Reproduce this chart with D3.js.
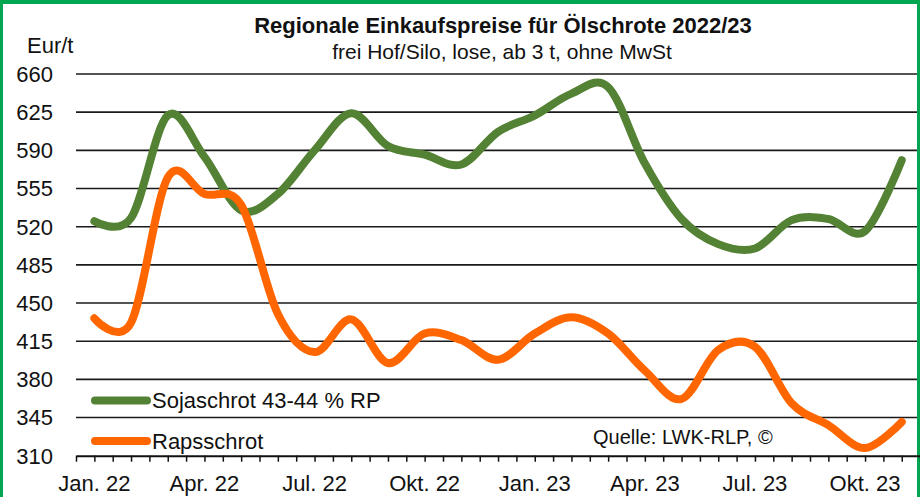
<!DOCTYPE html>
<html>
<head>
<meta charset="utf-8">
<script src="https://cdn.jsdelivr.net/npm/d3@7"></script>
<style>
  html, body { margin: 0; padding: 0; background: #fff; overflow: hidden; }
  svg { display: block; font-family: 'Liberation Sans Narrow', 'Arial Narrow', sans-serif; }
</style>
</head>
<body>
<svg id="chart" width="920" height="497"></svg>
<script>
// ---- data (monthly, Jan 22 .. Nov 23) ----
const months = ["Jan 22","Feb 22","Mär 22","Apr 22","Mai 22","Jun 22","Jul 22","Aug 22","Sep 22","Okt 22","Nov 22","Dez 22",
                "Jan 23","Feb 23","Mär 23","Apr 23","Mai 23","Jun 23","Jul 23","Aug 23","Sep 23","Okt 23","Nov 23"];
const soja  = [525, 528, 622, 584, 535, 550, 590, 624, 594, 586, 577, 607,
               622, 642, 648, 578, 527, 504, 500, 526, 527, 516, 581];
const raps  = [436, 432, 565, 550, 540, 440, 405, 435, 395, 422, 416, 398,
               422, 437, 422, 388, 362, 407, 410, 358, 338, 317, 341];
const yTicks = [310, 345, 380, 415, 450, 485, 520, 555, 590, 625, 660];
const xTickLabels = ["Jan. 22","Apr. 22","Jul. 22","Okt. 22","Jan. 23","Apr. 23","Jul. 23","Okt. 23"];
const xTickLabelIdx = [0, 3, 6, 9, 12, 15, 18, 21];
const seriesNames = ["Sojaschrot 43-44 % RP", "Rapsschrot"];

const W = 920, H = 497;
const svg = d3.select("#chart");
const green = "#548235", orange = "#FF6600", frame = "#00A651";

const x = d3.scaleLinear().domain([-0.5, months.length - 0.5]).range([76, 920.1]);
const y = d3.scaleLinear().domain([310, 660]).range([455.7, 74]);

// frame
svg.append("rect").attr("x", 0).attr("y", 0).attr("width", W).attr("height", 4).attr("fill", frame);
svg.append("rect").attr("x", 0).attr("y", 0).attr("width", 3).attr("height", H).attr("fill", frame);
svg.append("rect").attr("x", 917).attr("y", 0).attr("width", 3).attr("height", H).attr("fill", frame);

// gridlines
svg.append("g").selectAll("line").data(yTicks.filter(d => d !== 310)).join("line")
  .attr("x1", 76).attr("x2", 917)
  .attr("y1", d => y(d)).attr("y2", d => y(d))
  .attr("stroke", "#1a1a1a").attr("stroke-width", 1.6);

// y labels
svg.append("g").selectAll("text").data(yTicks).join("text")
  .attr("x", 53).attr("y", d => y(d)).attr("dy", "0.36em")
  .attr("text-anchor", "end").attr("font-size", 22).attr("fill", "#111")
  .text(d => d);

svg.append("text").attr("x", 27).attr("y", 53).attr("font-size", 22).attr("fill", "#111").text("Eur/t");

// x axis
const xAxis = d3.axisBottom(x)
  .tickValues(d3.range(-0.5, months.length, 0.5))
  .tickSize(6).tickSizeOuter(0).tickFormat("");
const gx = svg.append("g").attr("transform", `translate(0,${y(310)})`).call(xAxis);
gx.select(".domain").attr("stroke", "#111").attr("stroke-width", 2);
gx.selectAll(".tick line").attr("stroke", "#111").attr("stroke-width", 1.5);

svg.append("g").selectAll("text").data(xTickLabelIdx).join("text")
  .attr("x", d => x(d)).attr("y", 491)
  .attr("text-anchor", "middle").attr("font-size", 22).attr("fill", "#111")
  .text((d, i) => xTickLabels[i]);

// lines
const line = d3.line().x((d, i) => x(i)).y(d => y(d)).curve(d3.curveCatmullRom.alpha(0));
[[soja, green], [raps, orange]].forEach(([data, col]) => {
  svg.append("path").datum(data).attr("d", line)
    .attr("fill", "none").attr("stroke", col).attr("stroke-width", 8)
    .attr("stroke-linecap", "round").attr("stroke-linejoin", "round");
});

// legend
const legY = [400.5, 441];
[green, orange].forEach((col, i) => {
  svg.append("line").attr("x1", 95).attr("x2", 147).attr("y1", legY[i]).attr("y2", legY[i])
    .attr("stroke", col).attr("stroke-width", 8).attr("stroke-linecap", "round");
  svg.append("text").attr("x", 152).attr("y", legY[i]).attr("dy", "0.36em")
    .attr("font-size", 22).attr("fill", "#111").text(seriesNames[i]);
});

// source
svg.append("text").attr("x", 593).attr("y", 437).attr("dy", "0.36em")
  .attr("font-size", 20).attr("fill", "#111").text("Quelle: LWK-RLP, ©");

// titles
svg.append("text").attr("x", 503).attr("y", 33).attr("text-anchor", "middle")
  .attr("font-size", 22).attr("font-weight", "bold").attr("fill", "#111")
  .text("Regionale Einkaufspreise für Ölschrote 2022/23");
svg.append("text").attr("x", 502).attr("y", 59).attr("text-anchor", "middle")
  .attr("font-size", 21).attr("fill", "#111")
  .text("frei Hof/Silo, lose, ab 3 t, ohne MwSt");
</script>
</body>
</html>
